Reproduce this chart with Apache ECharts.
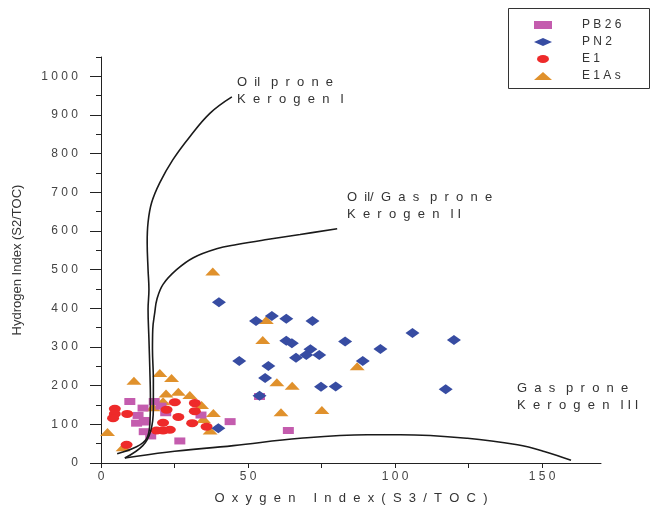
<!DOCTYPE html>
<html>
<head>
<meta charset="utf-8">
<script src="https://cdn.jsdelivr.net/npm/echarts@6/dist/echarts.min.js"></script>
<style>
  html, body { margin: 0; padding: 0; background: #fff; }
  #main { width: 651px; height: 510px; }
</style>
</head>
<body>
<div id="main"></div>
<script>
// tick positions
var xLabelTicks = [0, 50, 100, 150];
var xTicks = [0, 25, 50, 75, 100, 125, 150];
var yMajorTicks = [0, 100, 200, 300, 400, 500, 600, 700, 800, 900, 1000];
var yMinorTicks = [50, 150, 250, 350, 450, 550, 650, 750, 850, 950, 1050];

// samples  [OI, HI]
var pb26 = [[9.8, 159], [14.3, 142], [18.1, 159], [20.4, 147], [22.0, 130], [12.6, 123], [14.7, 110],
    [12.1, 103], [14.7, 81], [16.9, 70], [26.8, 57], [43.9, 107], [34.0, 124], [63.7, 84], [14.9, 106], [53.9, 172]];
var pn2 = [[40.1, 416], [52.7, 367], [58.1, 380], [63.0, 373], [71.9, 367], [105.9, 336], [120, 318],
    [63.0, 316], [64.9, 310], [83.0, 314], [95.0, 295], [71.2, 294], [69.8, 279], [74.2, 279], [66.3, 272],
    [89.0, 264], [47.0, 264], [56.9, 251], [55.8, 220], [74.8, 197], [79.8, 198], [117.2, 191], [53.9, 174], [39.9, 90]];
var e1 = [[4.7, 140], [4.7, 127], [4.1, 116], [8.9, 127], [25.1, 157], [31.9, 155], [31.9, 134], [22.3, 138],
    [26.3, 119], [21.1, 104], [31.0, 103], [35.9, 94], [18.9, 84], [21.1, 84], [23.4, 86], [8.7, 47]];
var e1as = [[20.0, 233], [24.0, 220], [11.2, 213], [22.1, 180], [26.3, 184], [30.2, 176], [21.1, 160],
    [34.2, 150], [38.2, 129], [17.7, 144], [34.8, 114], [37.1, 84], [2.2, 80], [7.5, 41], [38.0, 495],
    [56.2, 370], [55.0, 318], [87.1, 250], [59.8, 209], [65.0, 200], [61.2, 131], [75.1, 137]];

// kerogen type boundaries
var kerogenI = [[5.5, 24], [12.1, 42], [15.5, 63], [16.6, 101], [16.8, 166], [16.6, 243], [16.3, 320],
    [16.0, 397], [16.3, 449], [16.0, 500], [15.7, 570], [16.0, 622], [17.2, 673], [20.0, 725], [24.4, 784],
    [30.2, 844], [37.1, 905], [44.5, 947]];
var kerogenII = [[8.1, 13], [14.2, 45], [16.9, 83], [17.8, 140], [17.8, 217], [17.5, 294], [17.6, 346],
    [18.3, 390], [19.0, 423], [21.1, 462], [25.7, 500], [31.4, 531], [39.3, 554], [46.2, 565], [56.4, 578],
    [67.7, 591], [80.3, 606]];
var kerogenIII = [[8.1, 13], [22.3, 28], [45.0, 45], [67.7, 64], [90.5, 73], [101.8, 73], [124.6, 64],
    [141.6, 47], [150.7, 30], [159.8, 7]];

var chart = echarts.init(document.getElementById('main'));
var font = 'Arial, "Liberation Sans", sans-serif';

function spaced(v) {
    return String(v).split('').join(' ');
}

function curve(data) {
    return {
        type: 'line',
        data: data,
        symbol: 'none',
        smooth: 0.4,
        silent: true,
        z: 5,
        lineStyle: { color: '#1a1a1a', width: 1.6 }
    };
}

var option = {
    animation: false,
    backgroundColor: '#fff',
    grid: { left: 101, right: 50, top: 57, bottom: 46 },
    legend: {
        data: ['PB26', 'PN2', 'E1', 'E1As'],
        orient: 'vertical',
        left: 529,
        top: 13,
        itemWidth: 18,
        itemHeight: 8,
        itemGap: 3,
        selectedMode: false,
        formatter: function (n) { return spaced(n); },
        textStyle: { fontSize: 12, fontFamily: font, color: '#333', padding: [0, 0, 0, 25], lineHeight: 14 }
    },
    xAxis: {
        type: 'value', min: 0, max: 170,
        name: 'O  x  y  g  e  n     I  n  d  e  x  (  S  3  /  T  O  C  )',
        nameLocation: 'middle', nameGap: 29,
        nameTextStyle: { fontSize: 13, fontFamily: font, color: '#333' },
        axisLine: { lineStyle: { color: '#222', width: 1 } },
        axisTick: { customValues: xTicks, length: 5, lineStyle: { color: '#222' } },
        axisLabel: { customValues: xLabelTicks, formatter: spaced, margin: 8, fontSize: 12, fontFamily: font, color: '#444' },
        splitLine: { show: false }
    },
    yAxis: [{
        type: 'value', min: 0, max: 1050,
        name: 'Hydrogen Index (S2/TOC)',
        nameLocation: 'middle', nameGap: 77,
        nameTextStyle: { fontSize: 13, fontFamily: font, color: '#333' },
        axisLine: { show: true, lineStyle: { color: '#222', width: 1 } },
        axisTick: { customValues: yMajorTicks, length: 11, lineStyle: { color: '#222' } },
        axisLabel: { customValues: yMajorTicks, formatter: spaced, margin: 23, fontSize: 12, fontFamily: font, color: '#444' },
        splitLine: { show: false }
    }, {
        type: 'value', min: 0, max: 1050, position: 'left',
        axisLine: { show: false },
        axisTick: { show: true, customValues: yMinorTicks, length: 5, lineStyle: { color: '#222' } },
        axisLabel: { show: false },
        splitLine: { show: false }
    }],
    series: [
        {
            name: 'E1As', type: 'scatter', data: e1as, symbol: 'triangle', symbolSize: [15, 8],
            itemStyle: { color: '#e0912c', opacity: 1 }
        },
        {
            name: 'PB26', type: 'scatter', data: pb26, symbol: 'rect', symbolSize: [11, 7],
            itemStyle: { color: '#c45cae', opacity: 1 }
        },
        {
            name: 'E1', type: 'scatter', data: e1, symbol: 'path://M0,4A6,4 0 1,1 12,4A6,4 0 1,1 0,4Z', symbolSize: [12, 8],
            itemStyle: { color: '#ee2a2a', opacity: 1 }
        },
        {
            name: 'PN2', type: 'scatter', data: pn2, symbol: 'diamond', symbolSize: [14, 10],
            itemStyle: { color: '#374ca2', opacity: 1 }
        },
        curve(kerogenI),
        curve(kerogenII),
        curve(kerogenIII)
    ],
    graphic: [
        {
            type: 'rect', shape: { x: 508.5, y: 8.5, width: 141, height: 80 },
            style: { fill: 'none', stroke: '#333', lineWidth: 1 }
        },
        {
            type: 'text', x: 237, y: 91,
            style: { text: 'O  il   p  r  o  n  e\nK  e  r  o  g  e  n   I', font: '13px ' + font, fill: '#333', verticalAlign: 'middle', lineHeight: 17.6 }
        },
        {
            type: 'text', x: 347, y: 206,
            style: { text: 'O  il/  G  a  s   p  r  o  n  e\nK  e  r  o  g  e  n   I I', font: '13px ' + font, fill: '#333', verticalAlign: 'middle', lineHeight: 17.6 }
        },
        {
            type: 'text', x: 517, y: 397,
            style: { text: 'G  a  s   p  r  o  n  e\nK  e  r  o  g  e  n   I I I', font: '13px ' + font, fill: '#333', verticalAlign: 'middle', lineHeight: 17.6 }
        }
    ]
};

chart.setOption(option);
</script>
</body>
</html>
